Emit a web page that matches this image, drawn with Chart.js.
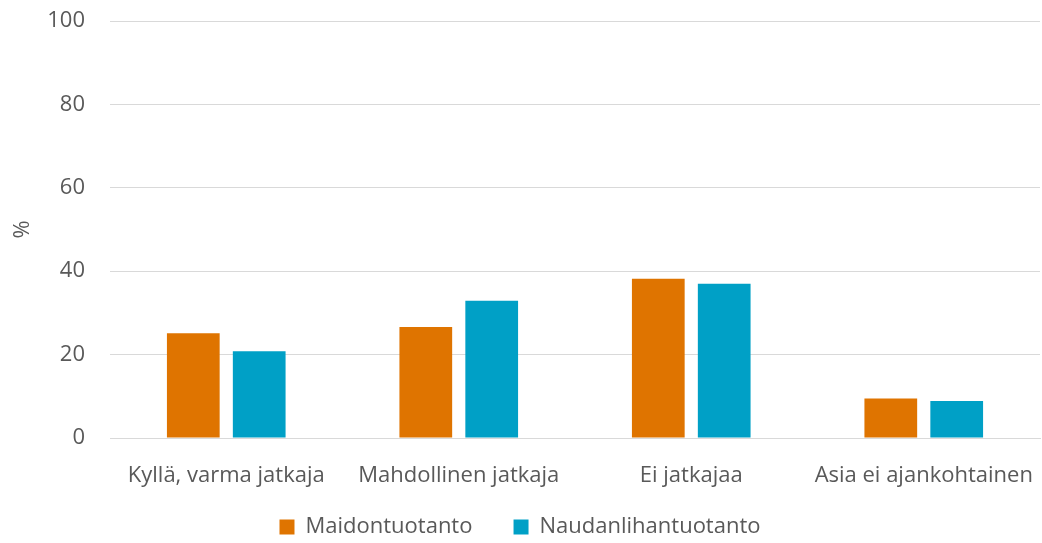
<!DOCTYPE html>
<html>
<head>
<meta charset="utf-8">
<script src="https://cdn.jsdelivr.net/npm/chart.js@4/dist/chart.umd.min.js"></script>
<style>
  html, body { margin: 0; padding: 0; background: #fff; }
  #wrap { width: 1042px; height: 543px; }
</style>
</head>
<body>
<div id="wrap"><canvas id="kaavio"></canvas></div>
<script>
const kategoriat = ['Kyllä, varma jatkaja', 'Mahdollinen jatkaja', 'Ei jatkajaa', 'Asia ei ajankohtainen'];
const maito = [25.1, 26.6, 38.2, 9.5];
const nauta = [20.8, 32.9, 37.0, 8.9];
const yTikit = [0, 20, 40, 60, 80, 100];

const fontti = "'Open Sans', 'Noto Sans', sans-serif";
const harmaa = '#595959';

const ctx = document.getElementById('kaavio').getContext('2d');
const kaavio = new Chart(ctx, {
  type: 'bar',
  data: {
    labels: kategoriat,
    datasets: [
      { label: 'Maidontuotanto', data: maito, backgroundColor: '#DF7400', borderWidth: 0 },
      { label: 'Naudanlihantuotanto', data: nauta, backgroundColor: '#00A0C6', borderWidth: 0 }
    ]
  },
  options: {
    responsive: true,
    maintainAspectRatio: false,
    animation: false,
    categoryPercentage: 0.567,
    barPercentage: 0.8,
    layout: { padding: { top: 21, right: 2, left: 0, bottom: 0 } },
    scales: {
      x: {
        afterFit: (axis) => {
          axis.height = 52;
          axis.paddingLeft = 0;
          axis.paddingRight = 0;
        },
        grid: { display: false },
        border: { display: true, color: '#d9d9d9', width: 1 },
        ticks: { color: harmaa, font: { family: fontti, size: 22 }, padding: 17, maxRotation: 0 }
      },
      y: {
        min: 0,
        max: 100,
        afterBuildTicks: (axis) => { axis.ticks = yTikit.map(v => ({ value: v })); },
        afterFit: (axis) => {
          axis.width = 110;
          axis.paddingTop = 13;
          axis.paddingBottom = 13;
        },
        grid: { color: '#d9d9d9', lineWidth: 1, drawTicks: false },
        border: { display: false },
        ticks: { color: harmaa, font: { family: fontti, size: 22 }, padding: 25 },
        title: { display: true, text: '%', color: harmaa, font: { family: fontti, size: 22 }, padding: { top: 10, bottom: 0 } }
      }
    },
    plugins: {
      legend: {
        display: true,
        position: 'bottom',
        maxHeight: 53,
        labels: {
          color: harmaa,
          font: { family: fontti, size: 22 },
          boxWidth: 15,
          boxHeight: 15,
          padding: 26,
          generateLabels: (chart) => {
            const items = Chart.defaults.plugins.legend.labels.generateLabels(chart);
            items[0].text += '\u00A0\u00A0\u2009';
            return items;
          }
        }
      },
      tooltip: { enabled: false }
    }
  }
});
</script>
</body>
</html>
